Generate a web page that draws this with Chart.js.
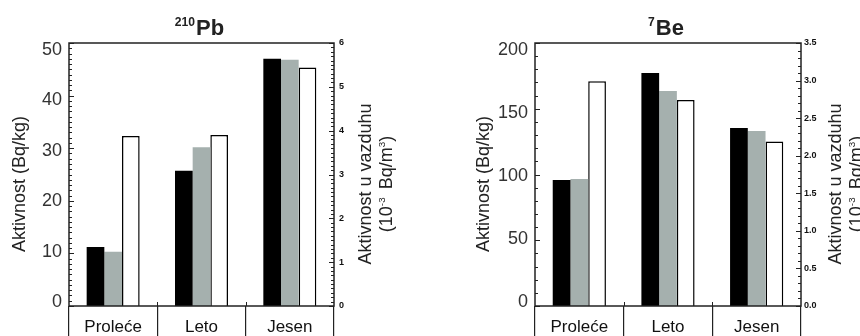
<!DOCTYPE html>
<html>
<head>
<meta charset="utf-8">
<script src="https://cdn.jsdelivr.net/npm/chart.js@4"></script>
<style>
  html, body { margin: 0; padding: 0; background: #fff; }
  #wrap { position: relative; width: 860px; height: 336px; overflow: hidden; }
  canvas { position: absolute; top: 0; }
</style>
</head>
<body>
<div id="wrap">
  <canvas id="pb-chart" width="430" height="336" style="left:0"></canvas>
  <canvas id="be-chart" width="430" height="336" style="left:430px"></canvas>
</div>
<script>
// Seasons
const categories = ['Proleće', 'Leto', 'Jesen'];

// 210Pb (Bq/kg) - black and grey bars, left axis
const pbBlack = [11.2, 25.7, 47.0];
const pbGrey = [10.3, 30.2, 46.8];
// 210Pb in air (10^-3 Bq/m3) - white bars, right axis
const pbAir = [3.88, 3.90, 5.44];

// 7Be (Bq/kg)
const beBlack = [95.8, 177.2, 135.4];
const beGrey = [96.6, 163.5, 133.0];
// 7Be in air (10^-3 Bq/m3)
const beAir = [2.99, 2.74, 2.19];

const FONT = "'Liberation Sans', Arial, sans-serif";
const INK = '#222';

// Draw text made of pieces, some of them superscript
function richWidth(ctx, parts, size, bold) {
    let w = 0;
    parts.forEach(p => {
        ctx.font = (bold ? 'bold ' : '') + (p.sup ? size * 0.55 : size) + 'px ' + FONT;
        w += ctx.measureText(p.t).width + (p.gap || 0);
    });
    return w;
}

function drawRich(ctx, parts, size, bold, x, y, rotate) {
    ctx.save();
    ctx.translate(x, y);
    if (rotate) ctx.rotate(-Math.PI / 2);
    ctx.fillStyle = INK;
    ctx.textBaseline = 'alphabetic';
    ctx.textAlign = 'left';
    let cx = -richWidth(ctx, parts, size, bold) / 2;
    const base = size * 0.36;
    parts.forEach(p => {
        const s = p.sup ? size * 0.55 : size;
        ctx.font = (bold ? 'bold ' : '') + s + 'px ' + FONT;
        ctx.fillText(p.t, cx, base - (p.sup ? size * 0.42 : 0));
        cx += ctx.measureText(p.t).width + (p.gap || 0);
    });
    ctx.restore();
}

// Frame, inward ticks, titles
const decor = {
    id: 'decor',
    afterDraw(chart, args, opts) {
        const ctx = chart.ctx;
        const a = chart.chartArea;

        ctx.save();
        ctx.strokeStyle = INK;
        ctx.lineWidth = 1;

        // inward ticks on both value axes
        const axes = [
            { scale: chart.scales.y, major: opts.yMajor, edge: a.left, dir: 1 },
            { scale: chart.scales.y1, major: opts.y1Major, edge: a.right, dir: -1 }
        ];
        axes.forEach(ax => {
            const step = ax.scale.options.ticks.stepSize;
            const n = Math.round((ax.scale.max - ax.scale.min) / step);
            for (let i = 0; i <= n; i++) {
                const v = ax.scale.min + i * step;
                const py = Math.round(ax.scale.getPixelForValue(v)) + 0.5;
                const isMajor = Math.abs(v / ax.major - Math.round(v / ax.major)) < 1e-6;
                const len = isMajor ? 5 : 3;
                ctx.beginPath();
                ctx.moveTo(ax.edge, py);
                ctx.lineTo(ax.edge + ax.dir * len, py);
                ctx.stroke();
            }
        });

        // small marks between categories inside the plot
        const xs = chart.scales.x;
        for (let i = 0; i < categories.length - 1; i++) {
            const px = Math.round((xs.getPixelForValue(i) + xs.getPixelForValue(i + 1)) / 2) + 0.5;
            ctx.beginPath();
            ctx.moveTo(px, a.bottom);
            ctx.lineTo(px, a.bottom - 4);
            ctx.stroke();
        }

        ctx.lineWidth = 1.5;
        ctx.strokeRect(a.left, a.top, a.right - a.left, a.bottom - a.top);
        ctx.restore();

        const midX = (a.left + a.right) / 2;
        drawRich(ctx, opts.title, 22, true, midX + opts.titleShift, 27, false);
        drawRich(ctx, [{ t: 'Aktivnost (Bq/kg)' }], 18, false, opts.leftTitleX, 184, true);
        drawRich(ctx, [{ t: 'Aktivnost u vazduhu' }], 18, false, opts.rightTitleX, 184, true);
        drawRich(ctx, [
            { t: '(10' },
            { t: '-3', sup: true, gap: 3 },
            { t: ' Bq/m' },
            { t: '3', sup: true },
            { t: ')' }
        ], 18, false, opts.rightTitleX + 21, 184, true);
    }
};

function isMultiple(v, m) {
    return Math.abs(v / m - Math.round(v / m)) < 1e-6;
}

function makeChart(canvasId, black, grey, air, cfg) {
    return new Chart(document.getElementById(canvasId), {
        type: 'bar',
        data: {
            labels: categories,
            datasets: [
                { data: black, backgroundColor: '#000000', yAxisID: 'y' },
                { data: grey, backgroundColor: '#a5b0ae', yAxisID: 'y' },
                {
                    data: air, backgroundColor: '#ffffff', borderColor: '#000000',
                    borderWidth: 1.5, yAxisID: 'y1'
                }
            ]
        },
        options: {
            responsive: false,
            animation: false,
            devicePixelRatio: 1,
            layout: { padding: { top: 43, left: 0, right: 0, bottom: 0 } },
            datasets: {
                bar: { categoryPercentage: 0.6, barPercentage: 1.0 }
            },
            plugins: {
                legend: { display: false },
                tooltip: { enabled: false },
                decor: cfg.decor
            },
            scales: {
                x: {
                    afterFit: s => { s.height = 30; },
                    border: { display: false },
                    grid: {
                        offset: true,
                        drawOnChartArea: false,
                        drawTicks: true,
                        tickLength: 30,
                        color: INK,
                        lineWidth: 1.2
                    },
                    ticks: {
                        padding: -19,
                        color: '#111',
                        font: { family: FONT, size: 17 }
                    }
                },
                // value axis of the bars (labels are on yl)
                y: {
                    display: false,
                    min: 0,
                    max: cfg.yMax,
                    ticks: { stepSize: cfg.yStep }
                },
                // label axis: in the original the numbers sit slightly
                // tighter than the tick marks
                yl: {
                    position: 'left',
                    min: -cfg.yMax * 4 / 252,
                    max: cfg.yMax * (1 + 7 / 252),
                    afterFit: s => { s.width = cfg.yWidth; },
                    border: { display: false },
                    grid: { display: false, drawTicks: false },
                    ticks: {
                        stepSize: cfg.yMajor,
                        includeBounds: false,
                        autoSkip: false,
                        padding: 7,
                        color: '#333',
                        font: { family: FONT, size: 18 },
                        callback: v => isMultiple(v, cfg.yMajor) ? String(Math.round(v)) : ''
                    }
                },
                y1: {
                    position: 'right',
                    min: 0,
                    max: cfg.y1Max,
                    afterFit: s => { s.width = cfg.y1Width; },
                    border: { display: false },
                    grid: { display: false, drawTicks: false },
                    ticks: {
                        stepSize: 0.1,
                        autoSkip: false,
                        padding: cfg.y1Pad,
                        color: '#111',
                        font: { family: FONT, size: 9, weight: 'bold' },
                        callback: v => isMultiple(v, cfg.y1Major) ? v.toFixed(cfg.y1Digits) : ''
                    }
                }
            }
        },
        plugins: [decor]
    });
}

makeChart('pb-chart', pbBlack, pbGrey, pbAir, {
    yMax: 50, yStep: 1, yMajor: 10, yWidth: 69,
    y1Max: 6, y1Major: 1, y1Digits: 0, y1Width: 96, y1Pad: 5,
    decor: {
        yMajor: 10, y1Major: 1,
        title: [{ t: '210', sup: true, gap: 1 }, { t: 'Pb' }],
        titleShift: -2,
        leftTitleX: 19, rightTitleX: 365
    }
});

makeChart('be-chart', beBlack, beGrey, beAir, {
    yMax: 200, yStep: 10, yMajor: 50, yWidth: 105,
    y1Max: 3.5, y1Major: 0.5, y1Digits: 1, y1Width: 59, y1Pad: 3,
    decor: {
        yMajor: 50, y1Major: 0.5,
        title: [{ t: '7', sup: true, gap: 1 }, { t: 'Be' }],
        titleShift: -2,
        leftTitleX: 53, rightTitleX: 405
    }
});
</script>
</body>
</html>
